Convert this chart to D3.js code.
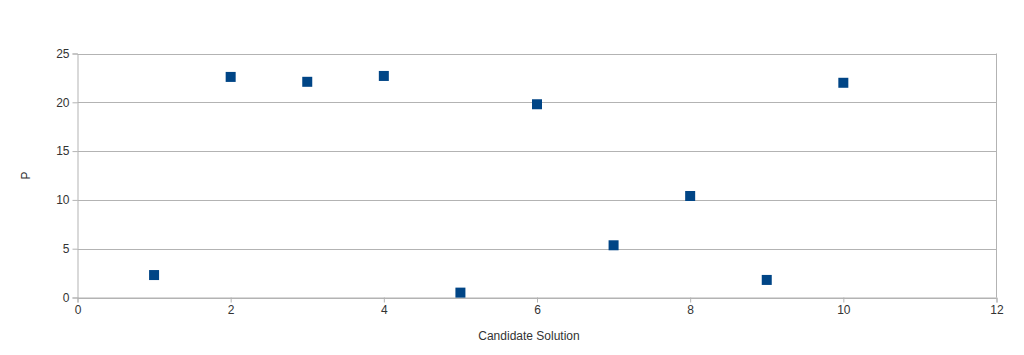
<!DOCTYPE html>
<html><head><meta charset="utf-8">
<script src="https://cdn.jsdelivr.net/npm/d3@7"></script>
<style>body{margin:0;background:#fff}svg{display:block}</style>
</head><body>
<svg id="c" width="1024" height="355"></svg>
<script>
const candidates = [1,2,3,4,5,6,7,8,9,10];
const pValues = [2.3,22.6,22.1,22.7,0.5,19.8,5.35,10.4,1.8,22.0];
const xTicks = [0,2,4,6,8,10,12];
const yTicks = [0,5,10,15,20,25];

const svg = d3.select('#c');
const L=77.5, R=996.5, T=53.5, B=297.5;
const x = d3.scaleLinear().domain([0,12]).range([L,R]);
const y = d3.scaleLinear().domain([0,25]).range([B,T]);
const font = '"Liberation Sans", Arial, sans-serif';
const grid = '#b3b3b3';

svg.append('g').selectAll('line').data(yTicks).join('line')
  .attr('x1',L).attr('x2',R).attr('y1',d=>Math.round(y(d))+0.5).attr('y2',d=>Math.round(y(d))+0.5)
  .attr('stroke',grid).attr('stroke-width',1);
svg.append('line').attr('x1',R).attr('x2',R).attr('y1',T).attr('y2',B).attr('stroke',grid);

const xa = svg.append('g').attr('transform',`translate(0,${B})`)
  .call(d3.axisBottom(x).tickValues(xTicks).tickSize(5).tickPadding(3).tickFormat(d3.format('d')));
const ya = svg.append('g').attr('transform',`translate(${L},0)`)
  .call(d3.axisLeft(y).tickValues(yTicks).tickSize(5).tickPadding(3).tickFormat(d3.format('d')));
[xa,ya].forEach(a=>{
  a.select('.domain').attr('stroke',grid);
  a.selectAll('.tick line').attr('stroke',grid);
  a.selectAll('.tick text').attr('fill','#333').style('font-family',font).style('font-size','12px');
});

svg.append('g').selectAll('rect').data(candidates).join('rect')
  .attr('x',(d,i)=>x(d)-5).attr('y',(d,i)=>y(pValues[i])-5)
  .attr('width',10).attr('height',10).attr('fill','#004586');

svg.append('text').attr('x',529).attr('y',340).attr('text-anchor','middle')
  .attr('fill','#333').style('font-family',font).style('font-size','12px').text('Candidate Solution');
svg.append('text').attr('transform',`translate(30,${(T+B)/2}) rotate(-90)`).attr('text-anchor','middle')
  .attr('fill','#333').style('font-family',font).style('font-size','12px').text('P');
</script>
</body></html>
